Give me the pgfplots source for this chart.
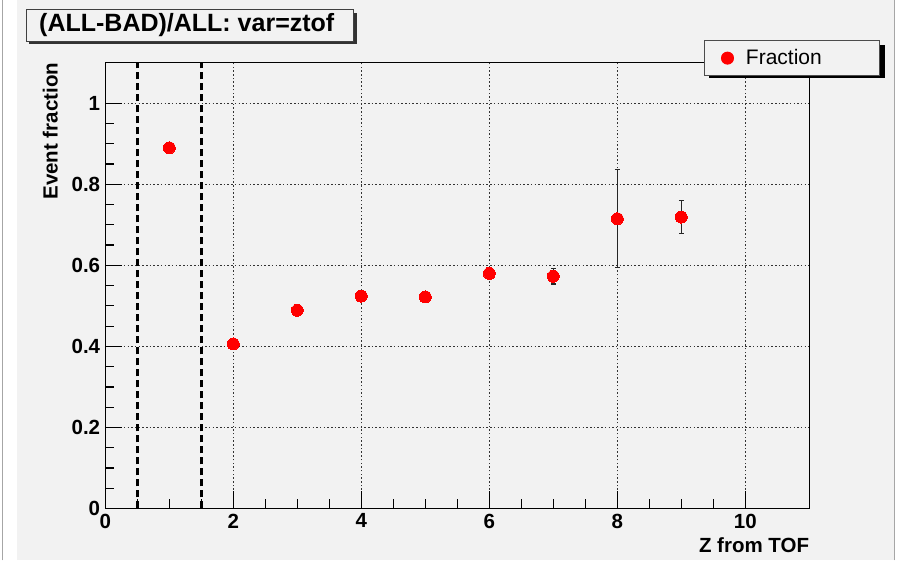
\documentclass[border=0pt]{standalone}
\usepackage{pgfplots}
\pgfplotsset{compat=1.18}
\usepackage{pgfplotstable}
\usepackage{fontspec}
\setmainfont{Liberation Sans}
\definecolor{canvas}{RGB}{242,242,242}

% Z from TOF, event fraction and its uncertainty
\pgfplotstableread{
x  y      e
1  0.890  0.004
2  0.406  0.004
3  0.489  0.008
4  0.524  0.008
5  0.522  0.012
6  0.580  0.010
7  0.573  0.019
8  0.715  0.121
9  0.719  0.040
}\fractiondata

\begin{document}
\begin{tikzpicture}[x=1bp,y=1bp]
% canvas
\fill[white] (0,0) rectangle (899,560);
\fill[canvas] (17,0) rectangle (894,560);
\draw[gray!70, line width=1bp] (2,0) -- (2,560);
\draw[gray!70, line width=1bp] (894.5,0) -- (894.5,560);
% title box with shadow
\fill[black!80] (29,516.3) rectangle (356.5,547.5);
\filldraw[fill=canvas, draw=black!75, line width=1bp] (26,519.3) rectangle (353,550.5);
\node[anchor=west, inner sep=0pt, font=\fontsize{25bp}{25bp}\selectfont\bfseries] at (39,535.5) {(ALL-BAD)/ALL: var=ztof};
% legend shadow
\fill[black] (709,482) rectangle (885,515);

\begin{axis}[
  scale only axis,
  width=704bp, height=445.8bp,
  at={(105.3bp,52bp)}, anchor=south west,
  xmin=0, xmax=11, ymin=0, ymax=1.1,
  xtick={0,2,4,6,8,10},
  ytick={0,0.2,0.4,0.6,0.8,1},
  yticklabels={0,0.2,0.4,0.6,0.8,1},
  minor x tick num=3, minor y tick num=3,
  tick align=inside,
  xtick pos=bottom, ytick pos=left,
  major tick length=17bp, minor tick length=9bp,
  tick style={black, line width=1.2bp},
  axis line style={black, line width=1.5bp},
  grid=major,
  major grid style={black!80, line width=1.3bp, dash pattern=on 1.5bp off 2.2bp},
  /pgf/number format/assume math mode=true,
  ticklabel style={font=\fontsize{20.5bp}{20.5bp}\selectfont\bfseries},
  xticklabel style={anchor=north, inner sep=0pt, yshift=-5bp},
  yticklabel style={anchor=east, inner sep=0pt, xshift=-5bp},
  xlabel={Z from TOF},
  ylabel={Event fraction},
  every axis x label/.style={at={(axis description cs:1,-0.083)}, anchor=east, inner sep=0pt,
    font=\fontsize{20.5bp}{20.5bp}\selectfont\bfseries},
  every axis y label/.style={at={(axis description cs:-0.078,1)}, rotate=90, anchor=east, inner sep=0pt,
    font=\fontsize{20.5bp}{20.5bp}\selectfont\bfseries},
  legend style={at={(axis description cs:0.8504,1.0498)}, anchor=north west,
    draw=black!70, fill=canvas, line width=1bp,
    inner xsep=16.5bp, inner ysep=6.8bp,
    font=\fontsize{21bp}{21bp}\selectfont},
  legend cell align=left,
  legend image code/.code={\fill[red] (6bp,0bp) circle (6bp);},
]
% selection boundaries
\addplot[black, line width=2.5bp, dash pattern=on 7bp off 4bp, forget plot] coordinates {(0.5,0) (0.5,1.1)};
\addplot[black, line width=2.5bp, dash pattern=on 7bp off 4bp, forget plot] coordinates {(1.5,0) (1.5,1.1)};
% fraction with errors
\addplot[red, only marks, mark=*, mark size=6bp, mark options={fill=red, draw=red, line width=0pt},
  error bars/.cd, y dir=both, y explicit,
  error bar style={black!85, line width=1.1bp},
  error mark options={rotate=90, mark size=2.5bp, black!85, line width=1.1bp}]
  table[x=x, y=y, y error=e] {\fractiondata};
\addlegendentry{\hspace{10bp}Fraction\rule{39bp}{0pt}}
\end{axis}
\end{tikzpicture}
\end{document}
